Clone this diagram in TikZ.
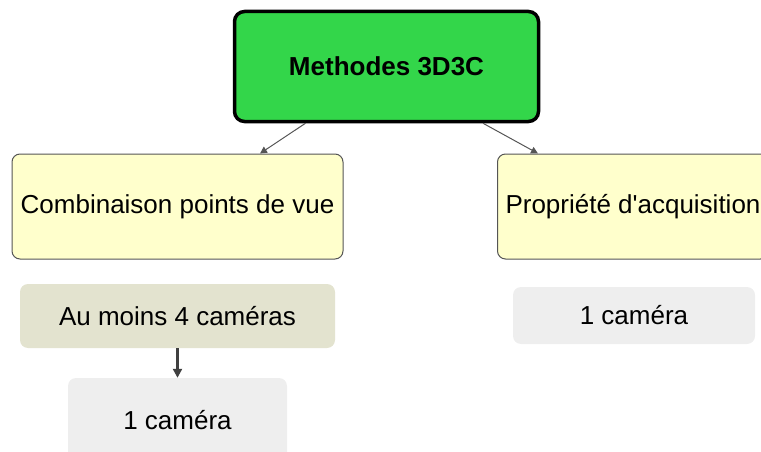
\documentclass[tikz,border=0pt]{standalone}
\usepackage{fontspec}
\setmainfont{Liberation Sans}
\usetikzlibrary{arrows.meta}
\definecolor{rootgreen}{HTML}{33D64A}
\definecolor{branchyellow}{HTML}{FFFFCC}
\definecolor{leafolive}{HTML}{E3E3CF}
\definecolor{leafgray}{HTML}{EEEEEE}
\definecolor{linkgray}{HTML}{555555}

\begin{document}
\begin{tikzpicture}[x=1pt,y=-1pt]
  \tikzset{every node/.style={font=\fontsize{26}{30}\selectfont,inner sep=0pt,align=center},
    rootbox/.style={draw=black,line width=3.5pt,fill=rootgreen,rounded corners=10pt,
      font=\fontsize{26}{30}\selectfont\bfseries,minimum width=304pt,minimum height=110pt},
    branchbox/.style={draw=linkgray,line width=1pt,fill=branchyellow,rounded corners=8pt,
      inner xsep=8pt,minimum height=105pt},
    leafbox/.style={fill=#1,rounded corners=8pt},
    link/.style={draw=linkgray,line width=1pt,-{Triangle[length=7pt,width=7pt]}},
    drop/.style={draw=black!75,line width=2.5pt,-{Triangle[length=9pt,width=9pt]}}}
  \useasboundingbox (0,0) rectangle (761,452);
  \node[rootbox] (root) at (386.5,66.5) {Methodes 3D3C};
  \node[branchbox,minimum width=331pt] (views) at (177.5,206.5) {Combinaison points de vue};
  \node[branchbox,anchor=west] (acq) at (497,206.5) {Propriété d\textquotesingle acquisition};
  \node[leafbox=leafolive,minimum width=315pt,minimum height=64pt] (four) at (177.5,316) {Au moins 4 caméras};
  \node[leafbox=leafgray,minimum width=219pt,minimum height=84pt] (onea) at (177.5,420) {1 caméra};
  \node[leafbox=leafgray,minimum width=242pt,minimum height=57pt] (oneb) at (634,315.5) {1 caméra};
  % connectors
  \draw[link] ([xshift=-81pt]root.south) -- ([xshift=82.5pt]views.north);
  \draw[link] ([xshift=96.5pt]root.south) -- ([xshift=41pt]acq.north west);
  \draw[drop] (four.south) -- (onea.north);
\end{tikzpicture}
\end{document}
